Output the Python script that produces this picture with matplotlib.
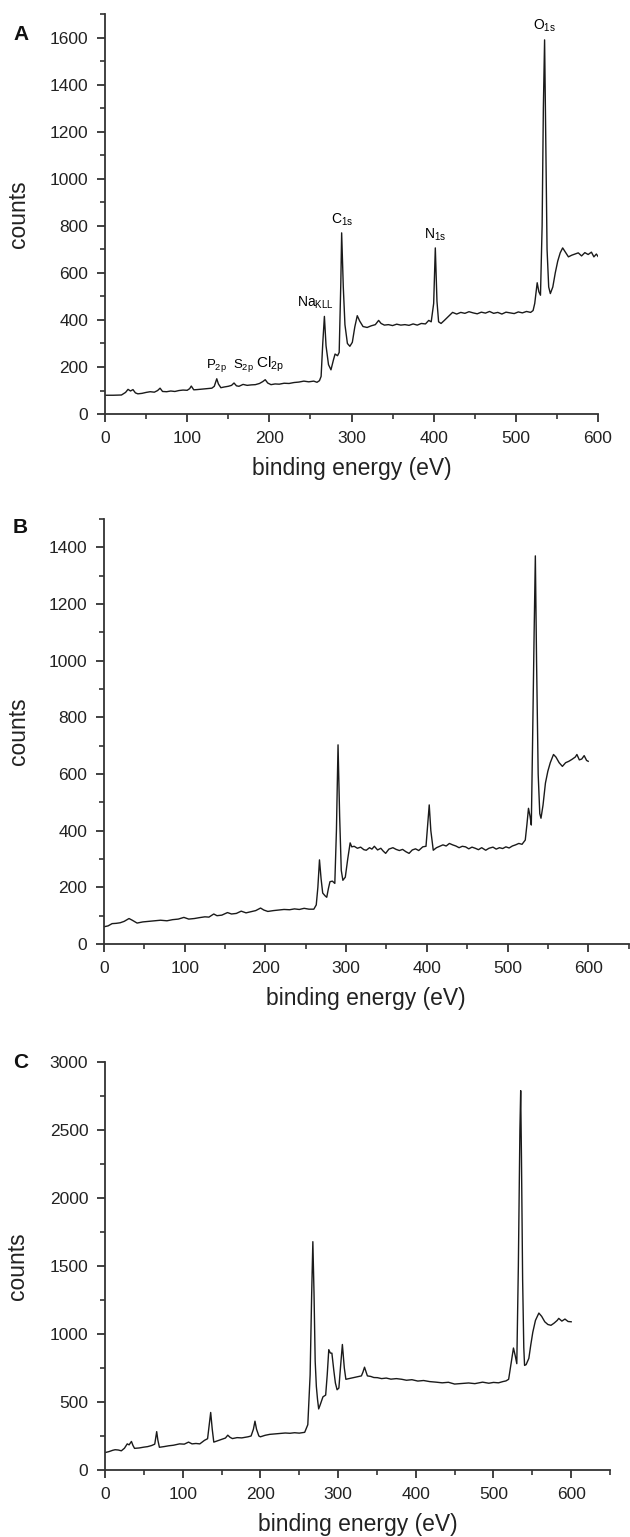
import numpy as np
import matplotlib
matplotlib.use('Agg')
import matplotlib.pyplot as plt
from matplotlib.ticker import MultipleLocator

plt.rcParams['font.family'] = ['Liberation Sans', 'DejaVu Sans']
plt.rcParams['mathtext.fontset'] = 'custom'
plt.rcParams['mathtext.rm'] = 'Liberation Sans'
plt.rcParams['mathtext.default'] = 'regular'

# panel A spectrum (binding energy, counts)
a_energy = [0, 10, 20, 25, 28, 31, 34, 37, 40, 45, 50, 55, 60, 64, 67, 70, 75, 80, 85, 90,
            95, 100, 103, 105, 108, 112, 118, 124, 130, 133, 136, 138, 141, 145, 150, 154, 157, 160, 163, 168,
            173, 178, 183, 188, 192, 195, 198, 202, 207, 212, 218, 224, 230, 236, 242, 248, 254, 258, 261, 263,
            265, 267, 269, 272, 275, 278, 280, 283, 285, 287, 288, 290, 292, 295, 298, 301, 304, 307, 310, 314,
            319, 324, 329, 333, 336, 340, 345, 350, 355, 360, 365, 370, 375, 380, 385, 390, 394, 397, 400, 402,
            404, 406, 409, 413, 418, 423, 428, 433, 438, 443, 448, 453, 458, 463, 468, 473, 478, 483, 488, 493,
            498, 503, 508, 513, 518, 521, 523, 526, 528, 530, 532, 533.5, 535, 536.5, 538, 540, 542, 545, 548, 551,
            554, 557, 560, 564, 568, 572, 576, 580, 584, 588, 592, 595, 598, 600]
a_counts = [80, 80, 81, 92, 105, 98, 104, 90, 86, 88, 92, 95, 93, 100, 110, 96, 95, 98, 96, 100,
            102, 101, 108, 119, 103, 104, 106, 108, 110, 118, 150, 128, 112, 115, 118, 122, 132, 120, 118, 126,
            122, 124, 125, 130, 138, 146, 132, 125, 128, 127, 131, 130, 134, 136, 140, 137, 140, 135, 142, 160,
            300, 415, 290, 210, 188, 230, 255, 248, 262, 560, 770, 540, 380, 300, 288, 305, 370, 418, 395, 372,
            368, 375, 380, 398, 385, 378, 380, 376, 382, 378, 380, 377, 383, 378, 385, 383, 398, 392, 470, 706,
            480, 392, 385, 398, 415, 432, 425, 432, 428, 435, 430, 426, 433, 429, 436, 428, 432, 425, 433, 430,
            427, 434, 430, 436, 432, 440, 470, 558, 520, 505, 800, 1300, 1590, 1150, 700, 540, 512, 540, 600, 650,
            685, 706, 690, 668, 675, 680, 685, 672, 686, 678, 688, 668, 680, 670]

# panel B spectrum
b_energy = [0, 5, 10, 15, 20, 25, 31, 35, 41, 48, 55, 62, 70, 78, 85, 92, 99, 105, 112, 118,
            125, 130, 136, 140, 146, 153, 158, 164, 170, 176, 182, 188, 194, 198, 203, 210, 216, 223, 230, 236,
            242, 248, 254, 260, 263, 265, 267, 269, 271, 274, 276, 278, 280, 283, 286, 288, 290, 292, 294, 296,
            299, 302, 305, 307, 310, 314, 318, 322, 325, 329, 332, 335, 339, 343, 346, 349, 353, 358, 362, 366,
            370, 374, 378, 382, 386, 390, 395, 399, 401, 403, 405, 408, 412, 416, 420, 424, 428, 432, 436, 440,
            444, 448, 452, 456, 460, 464, 468, 473, 477, 482, 486, 490, 494, 498, 502, 506, 510, 514, 518, 522,
            524, 526, 528, 529.5, 531, 533, 534.5, 536, 538, 540, 541.5, 544, 547, 550, 553, 557, 560, 564, 568, 572,
            576, 580, 584, 586, 589, 592, 595, 598, 600]
b_counts = [61, 64, 72, 73, 75, 80, 90, 84, 74, 78, 80, 82, 84, 82, 86, 88, 94, 88, 90, 93,
            96, 95, 106, 100, 102, 111, 106, 108, 116, 110, 114, 118, 127, 120, 115, 118, 120, 122, 121, 124,
            122, 126, 123, 123, 138, 200, 297, 230, 180, 170, 165, 195, 220, 222, 214, 400, 703, 450, 260, 225,
            236, 300, 357, 343, 345, 338, 342, 333, 331, 340, 335, 345, 332, 338, 328, 320, 335, 340, 334, 330,
            334, 326, 320, 332, 336, 330, 343, 345, 420, 491, 400, 331, 340, 345, 350, 346, 355, 350, 346, 340,
            345, 343, 336, 342, 338, 333, 340, 331, 338, 342, 335, 340, 337, 343, 339, 346, 350, 355, 352, 367,
            420, 479, 450, 420, 700, 1100, 1370, 1000, 600, 460, 444, 490, 568, 610, 640, 669, 660, 640, 627, 640,
            645, 652, 660, 669, 650, 653, 665, 648, 645]

# panel C spectrum
c_energy = [0, 5, 10, 13, 17, 21, 25, 28.6, 31, 34, 36, 38, 44, 50, 55, 60, 64, 66.5, 68, 70,
            76, 82, 88, 96, 102, 107.5, 112, 117, 122, 128, 132, 134, 136, 138, 140, 145, 150, 155, 158, 161,
            164, 170, 176, 184, 188, 191, 193, 195, 198, 200, 206, 212, 218, 226, 232, 238, 244, 250, 257, 261,
            264, 266, 267.5, 269, 270.5, 272, 273.5, 275, 277, 280.5, 284, 286, 288, 290, 292, 294.5, 296.5, 298.7, 301, 303,
            305.5, 308, 310, 314, 319.5, 325, 330, 332, 334, 336, 337.7, 342, 346, 350.6, 356, 362, 368, 375, 382, 388,
            395, 402.6, 410, 418, 426, 434, 442, 450, 460, 468, 476, 486, 494, 500, 506.5, 512, 516, 519.5, 522, 525.7,
            528, 530, 532, 534, 535, 536, 537.5, 539, 540, 542, 545.5, 548, 550.6, 554, 558.4, 562, 566, 570, 574, 578,
            582, 584, 588, 592, 596, 600]
c_counts = [128, 135, 145, 149, 147, 141, 160, 192, 185, 210, 180, 159, 162, 168, 172, 180, 190, 282, 220, 167,
            172, 178, 182, 192, 190, 205, 192, 195, 192, 218, 230, 330, 423, 300, 205, 215, 225, 235, 256, 240,
            231, 238, 236, 244, 250, 300, 359, 300, 250, 244, 255, 262, 265, 269, 272, 270, 274, 271, 277, 333,
            700, 1300, 1679, 1300, 800, 615, 520, 449, 480, 538, 551, 700, 885, 860, 859, 731, 640, 590, 603, 750,
            923, 750, 667, 672, 679, 685, 692, 720, 756, 720, 692, 688, 680, 679, 672, 676, 668, 672, 667, 660,
            664, 654, 658, 650, 646, 641, 645, 632, 636, 640, 635, 646, 638, 644, 641, 650, 655, 667, 760, 897,
            840, 782, 1500, 2500, 2790, 2300, 1400, 900, 769, 775, 821, 920, 1013, 1100, 1154, 1130, 1090, 1070, 1064, 1080,
            1100, 1115, 1095, 1110, 1092, 1090]

fig = plt.figure(figsize=(6.3, 15.37), dpi=100)

axA = fig.add_axes([0.1667, 0.7306, 0.7825, 0.2603])
axB = fig.add_axes([0.1651, 0.3858, 0.8326, 0.2765])
axC = fig.add_axes([0.1667, 0.0436, 0.8016, 0.2654])

panels = [
    (axA, a_energy, a_counts, 600, 1700, 200, 100, 'A', 35, -0.152),
    (axB, b_energy, b_counts, 650, 1500, 200, 100, 'B', 527, -0.141),
    (axC, c_energy, c_counts, 650, 3000, 500, 250, 'C', 1062, -0.150),
]

for ax, e, c, xmax, ymax, ymaj, ymin, letter, ly, labx in panels:
    ax.plot(e, c, color='#1a1a1a', lw=1.0)
    ax.set_xlim(0, xmax)
    ax.set_ylim(0, ymax)
    ax.xaxis.set_minor_locator(MultipleLocator(50))
    ax.yaxis.set_major_locator(MultipleLocator(ymaj))
    ax.yaxis.set_minor_locator(MultipleLocator(ymin))
    ax.set_xticks(np.arange(0, 601, 100))
    for s in ['top', 'right']:
        ax.spines[s].set_visible(False)
    for s in ['left', 'bottom']:
        ax.spines[s].set_linewidth(1.3)
        ax.spines[s].set_color('#333333')
    ax.tick_params(which='major', direction='out', length=6, width=1.3, labelsize=12.5, pad=6,
                   colors='#333333', labelcolor='#222222')
    ax.tick_params(which='minor', direction='out', length=3.5, width=1.2, colors='#333333')
    ax.set_xlabel('binding energy (eV)', fontsize=16.5, color='#222222', labelpad=8)
    ax.set_ylabel('counts', fontsize=16.5, color='#222222')
    ax.yaxis.set_label_coords(labx, 0.5)
    fig.text(13 / 630, 1 - ly / 1537, letter, fontsize=15, fontweight='bold', va='center', ha='left', color='#111111')

# peak labels in panel A
axA.text(535, 1615, r'O$_{1s}$', fontsize=10, ha='center', va='bottom')
axA.text(288, 790, r'C$_{1s}$', fontsize=10, ha='center', va='bottom')
axA.text(402, 725, r'N$_{1s}$', fontsize=10, ha='center', va='bottom')
axA.text(256, 440, r'Na$_{KLL}$', fontsize=10, ha='center', va='bottom')
axA.text(136, 170, r'P$_{2p}$', fontsize=9.5, ha='center', va='bottom')
axA.text(168, 170, r'S$_{2p}$', fontsize=9.5, ha='center', va='bottom')
axA.text(201, 170, r'Cl$_{2p}$', fontsize=11, ha='center', va='bottom')

fig.savefig('out.png', dpi=100)
